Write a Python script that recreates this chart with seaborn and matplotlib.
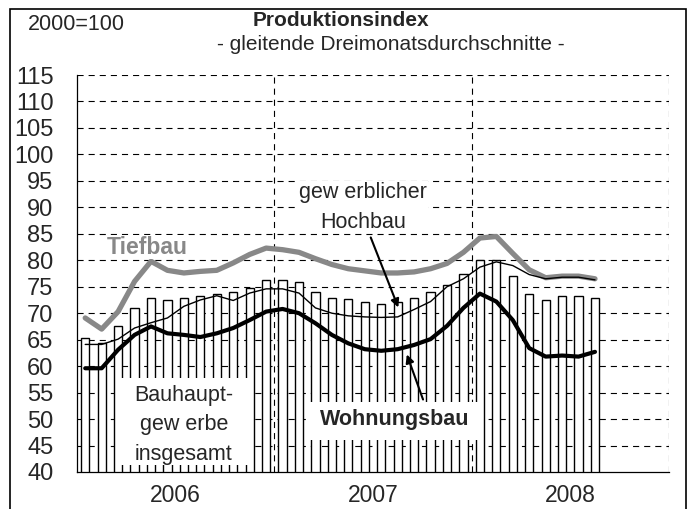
import numpy as np
import pandas as pd
import seaborn as sns
import matplotlib.pyplot as plt
from matplotlib.patches import Rectangle

# Monatswerte Jan 2006 - Aug 2008 (gleitende Dreimonatsdurchschnitte, 2000=100)
jahre = ['2006', '2007', '2008']
bauhauptgewerbe = [65.3, 64.4, 67.5, 70.9, 72.8, 72.5, 72.8, 73.2, 73.7, 74.0, 74.8, 76.2,
                   76.2, 75.9, 74.0, 72.9, 72.6, 72.1, 71.8, 72.1, 72.9, 74.0, 75.3, 77.5,
                   80.1, 80.1, 77.1, 73.7, 72.5, 73.3, 73.3, 72.9]
tiefbau = [69.1, 67.0, 70.3, 76.0, 79.8, 78.1, 77.6, 77.9, 78.1, 79.5, 81.1, 82.3,
           82.0, 81.5, 80.3, 79.2, 78.4, 78.0, 77.6, 77.6, 77.8, 78.4, 79.4, 81.5,
           84.2, 84.5, 81.3, 78.2, 76.7, 77.0, 77.0, 76.5]
hochbau = [64.1, 64.1, 65.1, 67.2, 68.2, 69.1, 71.3, 72.5, 73.3, 72.4, 73.8, 74.6,
           74.6, 73.8, 71.0, 70.0, 69.5, 69.3, 69.2, 69.3, 70.7, 72.2, 75.0, 76.5,
           78.7, 79.7, 79.0, 77.3, 76.5, 76.8, 76.8, 76.3]
wohnungsbau = [59.6, 59.6, 63.1, 65.9, 67.5, 66.2, 65.9, 65.5, 66.2, 67.2, 68.7, 70.3,
               70.8, 70.0, 68.1, 65.9, 64.3, 63.2, 62.9, 63.2, 64.0, 65.1, 67.6, 71.0,
               73.7, 72.2, 68.7, 63.4, 61.8, 62.0, 61.8, 62.7]

df = pd.DataFrame({'monat': np.arange(len(bauhauptgewerbe)),
                   'bau': bauhauptgewerbe, 'tief': tiefbau,
                   'hoch': hochbau, 'wohn': wohnungsbau})

sns.set_style('white')
plt.rcParams['font.family'] = ['Liberation Sans', 'DejaVu Sans']

fig = plt.figure(figsize=(6.92, 5.09), dpi=100)
ax = fig.add_axes([77/692, 37/509, (669-77)/692, (472-75)/509])

# Gitterlinien (gestrichelt, hinter den Saeulen)
for v in range(45, 120, 5):
    ax.axhline(v, color='black', lw=0.8, ls=(0, (5.5, 4.5)), zorder=0.5)
for xv in [11.5, 23.5, 35.5]:
    ax.axvline(xv, color='black', lw=0.8, ls=(0, (5.5, 4.5)), zorder=0.5)

sns.barplot(data=df, x='monat', y='bau', color='white', edgecolor='black',
            linewidth=1.0, width=0.5, saturation=1, errorbar=None, ax=ax, zorder=1)

sns.lineplot(data=df, x='monat', y='tief', color='#888888', linewidth=3.8, ax=ax, zorder=3)
sns.lineplot(data=df, x='monat', y='hoch', color='black', linewidth=1.0, ax=ax, zorder=3)
sns.lineplot(data=df, x='monat', y='wohn', color='black', linewidth=3.0, ax=ax, zorder=3)

ax.set_xlim(-0.5, 35.5)
ax.set_ylim(40, 115)
ax.set_xlabel('')
ax.set_ylabel('')

ax.set_yticks(range(40, 120, 5))
ax.tick_params(axis='y', direction='out', length=6.5, width=0.9, pad=10.5, labelsize=17)
ax.set_xticks([-0.5, 11.5, 23.5, 35.5])
ax.set_xticklabels([])
ax.set_xticks([5.5, 17.5, 29.5], minor=True)
ax.set_xticklabels(jahre, minor=True)
ax.tick_params(axis='x', which='major', direction='out', length=4.5, width=0.9)
ax.tick_params(axis='x', which='minor', length=0, pad=9, labelsize=16.5)

for s in ['top', 'right']:
    ax.spines[s].set_visible(False)
for s in ['left', 'bottom']:
    ax.spines[s].set_color('black')
    ax.spines[s].set_linewidth(0.9)

# Beschriftungen
ax.text(3.8, 82.5, 'Tiefbau', color='#888888', fontsize=16.5, fontweight='bold',
        ha='center', va='center', zorder=5,
        bbox=dict(facecolor='white', edgecolor='none', pad=0.3))
ax.text(16.9, 90.0, 'gew erblicher\nHochbau', fontsize=15.5, ha='center', va='center',
        linespacing=1.55, zorder=5,
        bbox=dict(facecolor='white', edgecolor='none', pad=0.5))
ax.annotate('', xy=(19.1, 70.6), xytext=(17.3, 84.8),
            arrowprops=dict(arrowstyle='-|>', color='black', lw=1.5,
                            mutation_scale=12), zorder=5)

ax.add_patch(Rectangle((1.98, 41.3), 10.1 - 1.98, 57.8 - 41.3,
                       facecolor='white', edgecolor='none', zorder=4))
ax.text(6.0, 48.9, 'Bauhaupt-\ngew erbe\ninsgesamt', fontsize=15.5, ha='center',
        va='center', linespacing=1.55, zorder=5)

ax.add_patch(Rectangle((13.5, 46.0), 24.1 - 13.5, 53.2 - 46.0,
                       facecolor='white', edgecolor='none', zorder=4))
ax.text(18.8, 50.0, 'Wohnungsbau', fontsize=15.5, fontweight='bold', ha='center',
        va='center', zorder=5)
ax.annotate('', xy=(19.5, 62.7), xytext=(20.6, 53.2),
            arrowprops=dict(arrowstyle='-|>', color='black', lw=1.5,
                            mutation_scale=12), zorder=5)

fig.text(28/692, 1 - 24/509, '2000=100', fontsize=15.5, ha='left', va='center')
fig.text(341/692, 1 - 20/509, 'Produktionsindex', fontsize=15, fontweight='bold',
         ha='center', va='center')
fig.text(391/692, 1 - 44/509, '- gleitende Dreimonatsdurchschnitte -', fontsize=15,
         ha='center', va='center')

# Rahmen um die Grafik
fig.add_artist(Rectangle((10/692, -0.1), 676/692, (509 - 9)/509 + 0.1,
                         transform=fig.transFigure, fill=False,
                         edgecolor='black', lw=1.2))

fig.savefig('out.png', dpi=100)
